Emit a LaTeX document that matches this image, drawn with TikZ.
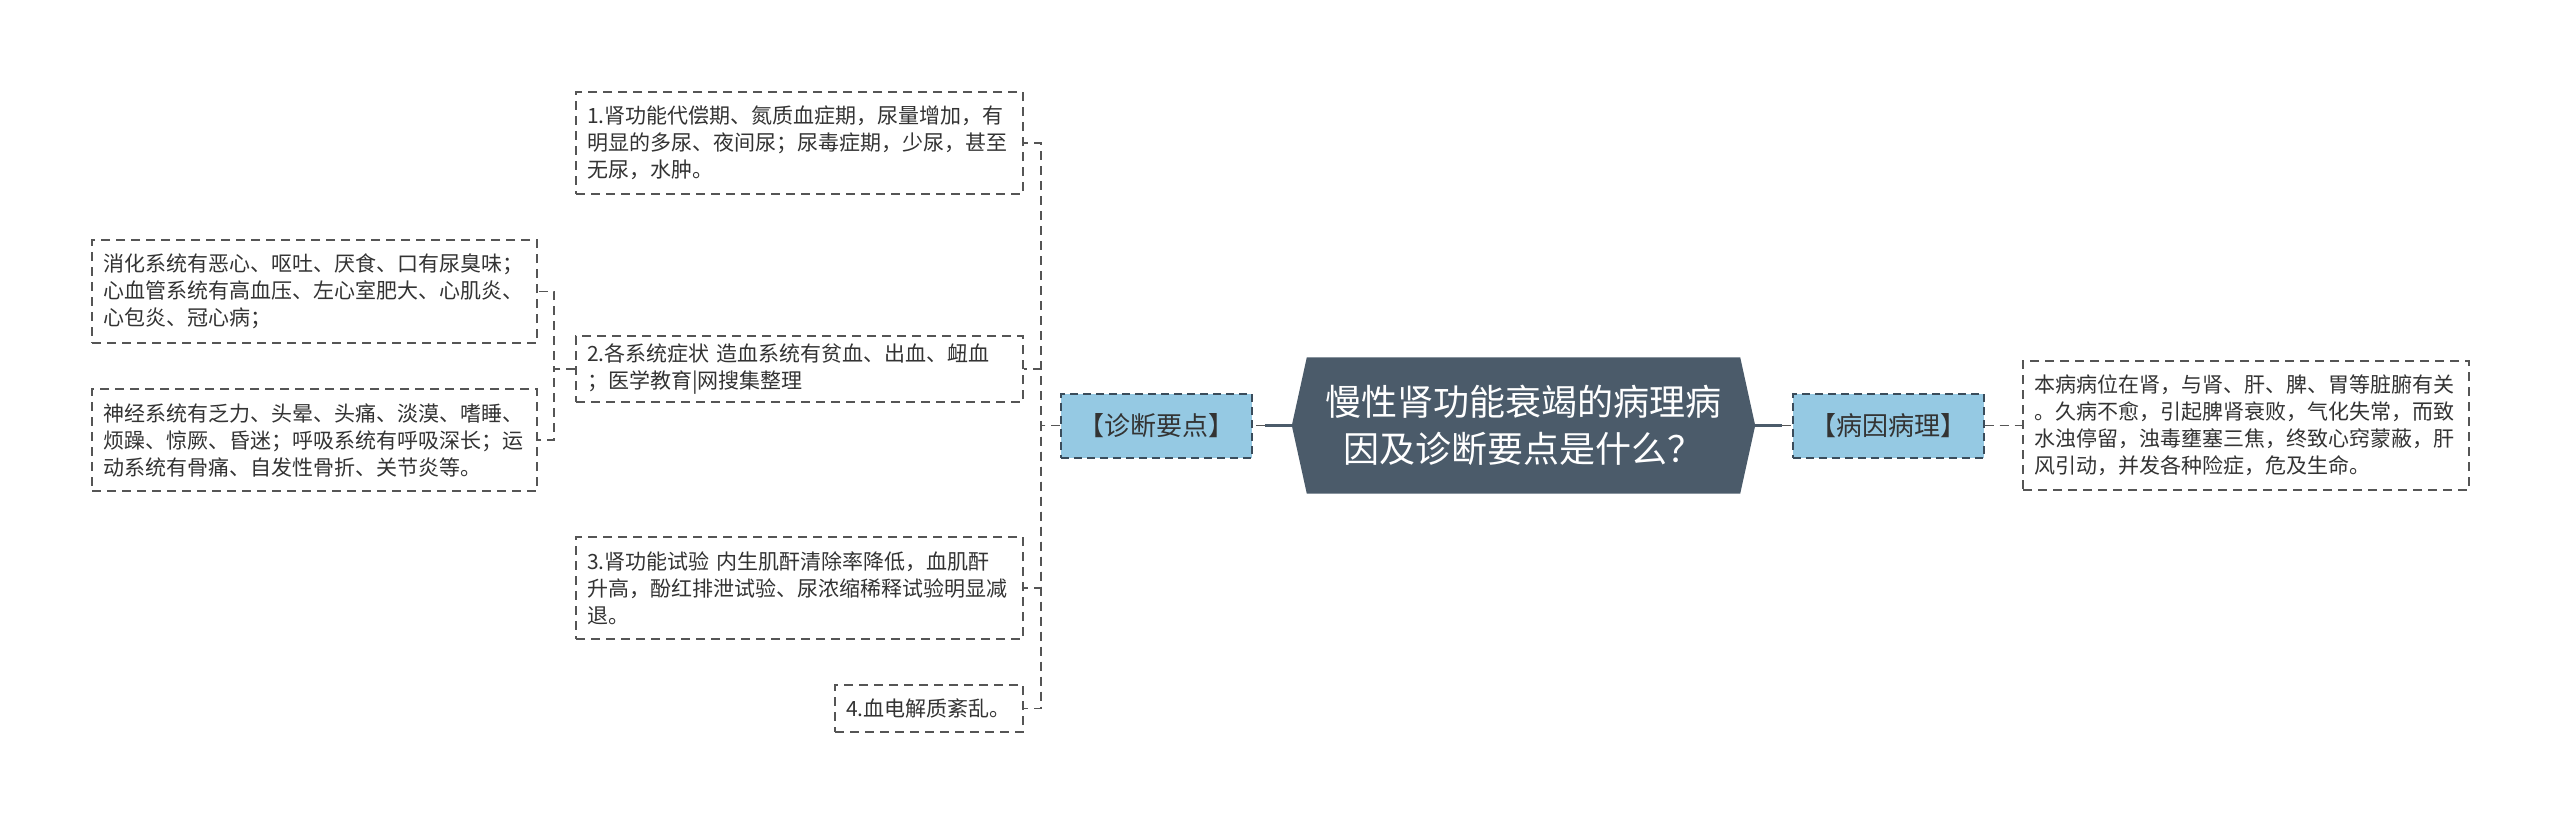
\documentclass[tikz,border=0pt]{standalone}
\usepackage{fontspec}
\setmainfont{Noto Sans CJK SC}
\usetikzlibrary{backgrounds}
\definecolor{hexc}{HTML}{4B5B6A}
\definecolor{bluef}{HTML}{95C9E3}
\definecolor{blued}{HTML}{3A4C5B}
\definecolor{dashc}{HTML}{555555}
\definecolor{txtc}{HTML}{333333}
\begin{document}
\begin{tikzpicture}[x=1pt,y=-1pt,
 tbox/.style={draw=dashc, line width=1.8pt, dash pattern=on 9pt off 6pt, fill=white, text=txtc,
   font=\fontsize{21}{27}\selectfont, align=left, inner xsep=11pt, inner ysep=0pt, anchor=center},
 bbox/.style={draw=blued, line width=2pt, dash pattern=on 8pt off 5pt, fill=bluef, text=txtc,
   font=\fontsize{26}{30}\selectfont, inner sep=0pt, minimum width=191pt, minimum height=64pt},
 dconn/.style={draw=dashc, line width=1.8pt, dash pattern=on 9pt off 6pt},
 sconn/.style={draw=hexc, line width=3pt},
]
\useasboundingbox (0,0) rectangle (2560,825);

% central topic
\node[inner sep=0pt, minimum width=463pt, minimum height=136pt, text=white, align=center,
  font=\fontsize{36}{47}\selectfont] (hex) at (1523.5,425.5) {慢性肾功能衰竭的病理病\\因及诊断要点是什么？};
\begin{scope}[on background layer]
\fill[white] (0,0) rectangle (2560,825);
\fill[hexc] (hex.west) -- ([xshift=15pt]hex.north west) -- ([xshift=-15pt]hex.north east) -- (hex.east)
  -- ([xshift=-15pt]hex.south east) -- ([xshift=15pt]hex.south west) -- cycle;
\end{scope}

% main branches
\node[bbox] (zd) at (1156.5,425.5) {【诊断要点】};
\node[bbox] (by) at (1888,425.5) {【病因病理】};

% right detail
\node[tbox, text width=424pt, minimum height=129pt] (r1) at (2246,425.5)
 {本病病位在肾，与肾、肝、脾、胃等脏腑有关\\。久病不愈，引起脾肾衰败，气化失常，而致\\水浊停留，浊毒壅塞三焦，终致心窍蒙蔽，肝\\风引动，并发各种险症，危及生命。};

% left details
\node[tbox, text width=425pt, minimum height=102pt] (b1) at (799.5,143)
 {1.肾功能代偿期、氮质血症期，尿量增加，有\\明显的多尿、夜间尿；尿毒症期，少尿，甚至\\无尿，水肿。};
\node[tbox, text width=425pt, minimum height=66pt] (b2) at (799.5,369)
 {2.各系统症状 造血系统有贫血、出血、衄血\\；医学教育|网搜集整理};
\node[tbox, text width=425pt, minimum height=102pt] (b3) at (799.5,588)
 {3.肾功能试验 内生肌酐清除率降低，血肌酐\\升高，酚红排泄试验、尿浓缩稀释试验明显减\\退。};
\node[tbox, text width=166pt, minimum height=47pt] (b4) at (929,708.5)
 {4.血电解质紊乱。};
\node[tbox, text width=423pt, minimum height=103pt] (l1) at (314.5,291.5)
 {消化系统有恶心、呕吐、厌食、口有尿臭味；\\心血管系统有高血压、左心室肥大、心肌炎、\\心包炎、冠心病；};
\node[tbox, text width=423pt, minimum height=102pt] (l2) at (314.5,440)
 {神经系统有乏力、头晕、头痛、淡漠、嗜睡、\\烦躁、惊厥、昏迷；呼吸系统有呼吸深长；运\\动系统有骨痛、自发性骨折、关节炎等。};

% connectors
\draw[sconn] (hex.west) -- ++(-27,0) coordinate (jl);
\draw[dconn] (jl) -- (zd.east);
\draw[sconn] (hex.east) -- ++(27,0) coordinate (jr);
\draw[dconn] (jr) -- (by.west);
\draw[dconn] (by.east) -- (r1.west);

\draw[dconn] (zd.west) -- ++(-19,0) |- (b1.east);
\draw[dconn] (zd.west) -- ++(-19,0) |- (b2.east);
\draw[dconn] (zd.west) -- ++(-19,0) |- (b3.east);
\draw[dconn] (zd.west) -- ++(-19,0) |- (b4.east);

\draw[dconn] (b2.west) -- ++(-21,0) |- (l1.east);
\draw[dconn] (b2.west) -- ++(-21,0) |- (l2.east);
\end{tikzpicture}
\end{document}
